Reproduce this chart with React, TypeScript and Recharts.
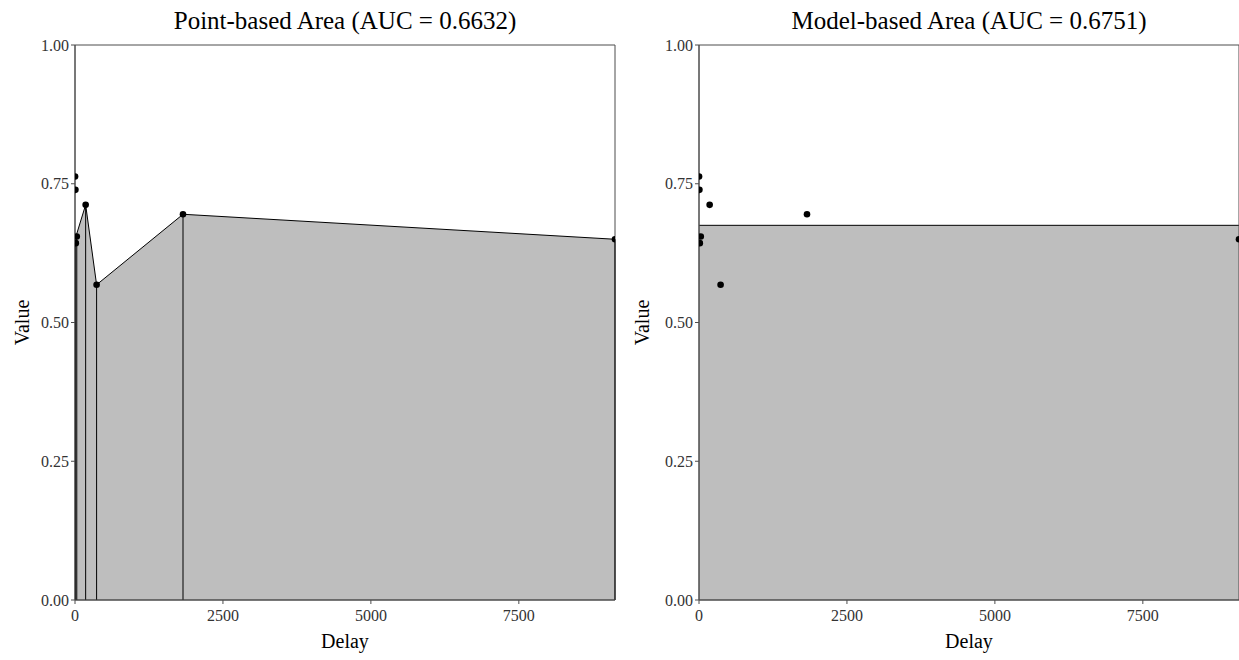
import {
  ComposedChart,
  Area,
  Scatter,
  XAxis,
  YAxis,
  ReferenceLine,
  ReferenceArea,
  Label,
} from "recharts";

// observed indifference points
const pointDelays = [1, 7, 14, 30, 180, 365, 1825, 9125];
const pointValues = [0.763, 0.739, 0.643, 0.655, 0.712, 0.568, 0.695, 0.65];

// point-based polygon (trapezoids)
const areaDelays = [7, 30, 180, 365, 1825, 9125];
const areaValues = [0.643, 0.66, 0.712, 0.568, 0.695, 0.65];

// model-based fit
const modelDelays = [0, 9125];
const modelValues = [0.6751, 0.6751];

const xTicks = [0, 2500, 5000, 7500];
const yTicks = [0, 0.25, 0.5, 0.75, 1];
const titles = ["Point-based Area (AUC = 0.6632)", "Model-based Area (AUC = 0.6751)"];

const font = "'Liberation Serif', 'Times New Roman', serif";
const axisGrey = "#4d4d4d";

const points = pointDelays.map((d, i) => ({ delay: d, value: pointValues[i] }));
const pointArea = areaDelays.map((d, i) => ({ delay: d, value: areaValues[i] }));
const modelArea = modelDelays.map((d, i) => ({ delay: d, value: modelValues[i] }));

function Panel({
  id,
  data,
  width,
  axisWidth,
  rightMargin,
  bars,
}: {
  id: string;
  data: { delay: number; value: number }[];
  width: number;
  axisWidth: number;
  rightMargin: number;
  bars: boolean;
}) {
  const tick = { fontFamily: font, fontSize: 16, fill: "#333" };
  const plotW = width - axisWidth - rightMargin;
  // dots are clipped to the panel like ggplot does
  const Dot = (props: any) => (
    <circle cx={props.cx} cy={props.cy} r={3.3} fill="#000" clipPath={`url(#${id})`} />
  );
  return (
    <ComposedChart
      width={width}
      height={660}
      data={data}
      margin={{ top: 45, right: rightMargin, bottom: 0, left: 0 }}
      style={{ fontFamily: font }}
    >
      <defs>
        <clipPath id={id}>
          <rect x={axisWidth} y={45} width={plotW} height={555} />
        </clipPath>
      </defs>
      <XAxis
        dataKey="delay"
        type="number"
        domain={[0, 9125]}
        allowDataOverflow
        ticks={xTicks}
        tick={tick}
        tickSize={4}
        tickMargin={6}
        height={60}
        stroke={axisGrey}
      >
        <Label
          value="Delay"
          position="insideBottom"
          offset={12}
          style={{ fontFamily: font, fontSize: 20, fill: "#000" }}
        />
      </XAxis>
      <YAxis
        type="number"
        domain={[0, 1]}
        allowDataOverflow
        ticks={yTicks}
        tickFormatter={(v: number) => v.toFixed(2)}
        tick={tick}
        tickSize={4}
        tickMargin={2}
        width={axisWidth}
        stroke={axisGrey}
      >
        <Label
          value="Value"
          angle={-90}
          position="insideLeft"
          offset={22}
          style={{ fontFamily: font, fontSize: 20, fill: "#000", textAnchor: "middle" }}
        />
      </YAxis>
      <Area
        dataKey="value"
        type="linear"
        stroke="#000"
        strokeWidth={1}
        fill="#bebebe"
        fillOpacity={1}
        baseValue={0}
        dot={false}
        activeDot={false}
        isAnimationActive={false}
      />
      {bars &&
        areaDelays.map((d, i) => (
          <ReferenceLine
            key={d}
            segment={[
              { x: d, y: 0 },
              { x: d, y: areaValues[i] },
            ]}
            stroke="#000"
            strokeWidth={1}
          />
        ))}
      <ReferenceArea
        x1={0}
        x2={9125}
        y1={0}
        y2={1}
        fill="none"
        stroke={axisGrey}
        strokeWidth={1}
        ifOverflow="visible"
      />
      <Scatter data={points} dataKey="value" shape={Dot} isAnimationActive={false} />
    </ComposedChart>
  );
}

export default function App() {
  const titleStyle = {
    position: "absolute" as const,
    top: 6,
    fontFamily: font,
    fontSize: 25,
    lineHeight: "30px",
    textAlign: "center" as const,
    width: 540,
    color: "#000",
  };
  return (
    <div style={{ position: "absolute", left: 0, top: 0, width: 1239, height: 660, background: "#fff" }}>
      <div style={{ ...titleStyle, left: 75 }}>{titles[0]}</div>
      <div style={{ ...titleStyle, left: 699 }}>{titles[1]}</div>
      <div style={{ position: "absolute", left: 0, top: 0 }}>
        <Panel id="clip-point" data={pointArea} width={620} axisWidth={75} rightMargin={5} bars />
      </div>
      <div style={{ position: "absolute", left: 620, top: 0 }}>
        <Panel id="clip-model" data={modelArea} width={619} axisWidth={79} rightMargin={0} bars={false} />
      </div>
    </div>
  );
}
